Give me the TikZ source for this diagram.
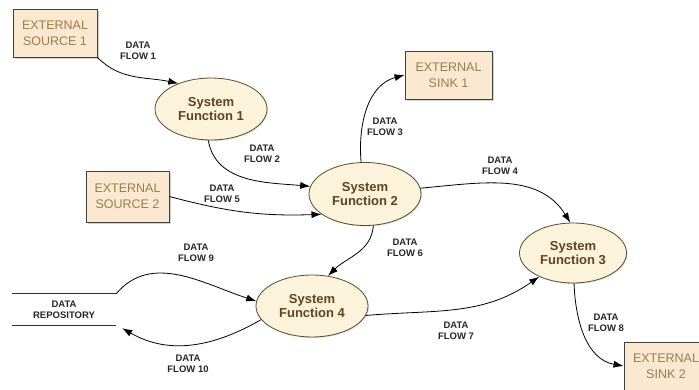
\documentclass[tikz,border=0pt]{standalone}
\usepackage{fontspec}
\setmainfont{Liberation Sans}
\usetikzlibrary{arrows.meta,shapes.geometric,shadows}
\definecolor{boxfill}{HTML}{FAE8D0}
\definecolor{boxtext}{HTML}{9E7C4C}
\definecolor{ellfill}{HTML}{FBF4DA}
\definecolor{elldraw}{HTML}{5C4A2C}
\definecolor{elltext}{HTML}{604420}
\begin{document}
\begin{tikzpicture}[x=1pt,y=-1pt,
  entity/.style={draw=black!75,line width=0.9pt,fill=boxfill,text=boxtext,
    drop shadow={shadow xshift=2pt,shadow yshift=-2pt,fill=black!35},
    inner sep=0pt,align=center,font=\fontsize{12.5}{16}\selectfont},
  func/.style={ellipse,draw=elldraw,line width=0.8pt,fill=ellfill,text=elltext,
    drop shadow={shadow xshift=1pt,shadow yshift=-1pt,fill=black!25},
    inner sep=0pt,align=center,font=\fontsize{13}{14.5}\selectfont\bfseries},
  flowlbl/.style={align=center,font=\fontsize{9.5}{11}\selectfont\bfseries,text=black!85},
  flow/.style={line width=0.8pt,-{Latex[length=10pt,width=7pt]}}]
\useasboundingbox (0,0) rectangle (699,390);
\clip (0,0) rectangle (699,390);
% entities
\node[entity,minimum width=84pt,minimum height=48pt] (src1) at (55,33) {EXTERNAL\\SOURCE 1};
\node[entity,minimum width=87pt,minimum height=48pt] (sink1) at (448.5,75) {EXTERNAL\\SINK 1};
\node[entity,minimum width=83pt,minimum height=51pt] (src2) at (127.5,196.5) {EXTERNAL\\SOURCE 2};
\node[entity,minimum width=84pt,minimum height=48pt] (sink2) at (666,366) {EXTERNAL\\SINK 2};
% functions
\node[func,minimum width=112pt,minimum height=62pt] (sf1) at (211,109) {System\\Function 1};
\node[func,minimum width=112pt,minimum height=63pt] (sf2) at (365,194) {System\\Function 2};
\node[func,minimum width=107pt,minimum height=60pt] (sf3) at (573,253) {System\\Function 3};
\node[func,minimum width=112pt,minimum height=62pt] (sf4) at (312,306) {System\\Function 4};
% repository
\node[flowlbl,minimum width=104pt,minimum height=31pt,inner sep=0pt] (repo) at (64,309.5) {DATA\\REPOSITORY};
\draw[line width=0.8pt,black!80] (repo.north west) -- (repo.north east);
\draw[line width=0.8pt,black!80] (repo.south west) -- (repo.south east);
% flows
\draw[flow] (src1.south east) to[out=-45,in=168] (sf1.142);
\draw[flow] (sf1.265) to[out=-80,in=175] (sf2.172);
\draw[flow] (sf2.97) to[out=95,in=195] (sink1.west);
\draw[flow] (sf2.6) to[out=5,in=122] (sf3.95);
\draw[flow] (src2.east) to[out=-15,in=182] (sf2.205);
\draw[flow] (sf2.285) to[out=-95,in=45] (sf4.62);
\draw[flow] (sf4.350) to[out=5,in=215] (sf3.215);
\draw[flow] (sf3.272) to[out=-88,in=170] (sink2.west);
\draw[flow] (repo.north east) to[out=50,in=162] (sf4.175);
\draw[flow] (sf4.195) to[out=210,in=-30] ([xshift=6pt,yshift=-3pt]repo.south east);
% labels
\node[flowlbl] (l1) at (138,51) {DATA\\FLOW 1};
\node[flowlbl] (l2) at (262,154) {DATA\\FLOW 2};
\node[flowlbl] (l3) at (385,127) {DATA\\FLOW 3};
\node[flowlbl] (l4) at (500,166) {DATA\\FLOW 4};
\node[flowlbl] (l5) at (222,194) {DATA\\FLOW 5};
\node[flowlbl] (l6) at (405,248) {DATA\\FLOW 6};
\node[flowlbl] (l7) at (456,331) {DATA\\FLOW 7};
\node[flowlbl] (l8) at (606,323) {DATA\\FLOW 8};
\node[flowlbl] (l9) at (196,253) {DATA\\FLOW 9};
\node[flowlbl] (l10) at (188,364) {DATA\\FLOW 10};
\end{tikzpicture}
\end{document}
